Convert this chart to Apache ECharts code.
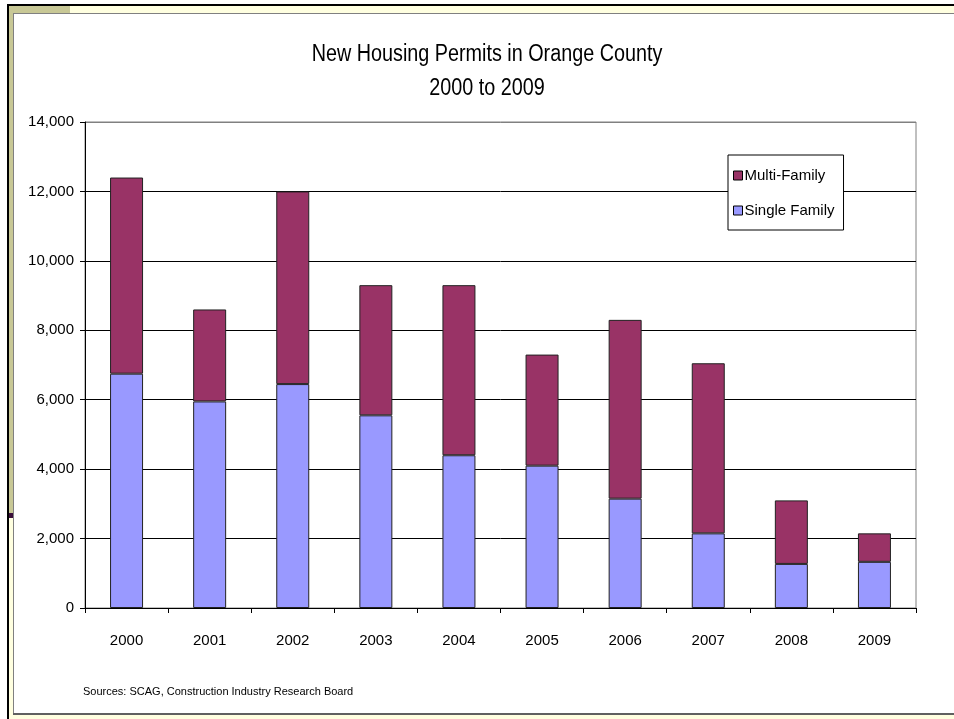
<!DOCTYPE html>
<html>
<head>
<meta charset="utf-8">
<script src="https://cdn.jsdelivr.net/npm/echarts@6/dist/echarts.min.js"></script>
<style>
  html, body { margin: 0; padding: 0; background: #fff; }
  #chart { width: 954px; height: 719px; }
</style>
</head>
<body>
<div id="chart"></div>
<script>
// Permit counts by year (units)
const years = ['2000', '2001', '2002', '2003', '2004', '2005', '2006', '2007', '2008', '2009'];
const singleFamily = [6750, 5950, 6450, 5550, 4400, 4100, 3150, 2150, 1270, 1330];
const multiFamily  = [5650, 2650, 5550, 3750, 4900, 3200, 5150, 4900, 1830, 820];
const yTicks = [0, 2000, 4000, 6000, 8000, 10000, 12000, 14000];

const FONT = '"Liberation Sans", Arial, sans-serif';

const chart = echarts.init(document.getElementById('chart'), null, { renderer: 'canvas' });

// Narrow-looking text: regular face squeezed horizontally
function narrowText(text, x, y, size, sx) {
  return {
    type: 'text', x: x, y: y, scaleX: sx, z: 10,
    style: { text: text, font: size + 'px ' + FONT, fill: '#000', align: 'center', verticalAlign: 'middle' }
  };
}

// Slide-style frame around the chart
const frame = [
  { type: 'rect', shape: { x: 7, y: 4, width: 947, height: 2 }, style: { fill: '#000' } },
  { type: 'rect', shape: { x: 7, y: 4, width: 2, height: 715 }, style: { fill: '#000' } },
  { type: 'rect', shape: { x: 9, y: 6, width: 945, height: 7 }, style: { fill: '#ffffe0' } },
  { type: 'rect', shape: { x: 9, y: 6, width: 61, height: 7 }, style: { fill: '#c8c896' } },
  { type: 'rect', shape: { x: 9, y: 6, width: 4, height: 507 }, style: { fill: '#c8c896' } },
  { type: 'rect', shape: { x: 9, y: 513, width: 4, height: 5 }, style: { fill: '#3a0f3a' } },
  { type: 'rect', shape: { x: 9, y: 518, width: 4, height: 201 }, style: { fill: '#ffffe0' } },
  { type: 'rect', shape: { x: 13, y: 13, width: 941, height: 1 }, style: { fill: '#808080' } },
  { type: 'rect', shape: { x: 13, y: 13, width: 1, height: 701 }, style: { fill: '#808080' } },
  { type: 'rect', shape: { x: 13, y: 713, width: 941, height: 2 }, style: { fill: '#606060' } },
  { type: 'rect', shape: { x: 13, y: 715, width: 941, height: 4 }, style: { fill: '#ffffe0' } },
  narrowText('New Housing Permits in Orange County', 487, 55, 23, 0.86),
  narrowText('2000 to 2009', 487, 89, 23, 0.86),
  {
    type: 'text', x: 83, y: 692,
    style: { text: 'Sources: SCAG, Construction Industry Research Board', font: '11px ' + FONT, fill: '#000', verticalAlign: 'middle' }
  }
];

chart.setOption({
  animation: false,
  backgroundColor: '#fff',
  legend: {
    data: ['Multi-Family', 'Single Family'],
    orient: 'vertical',
    left: 728,
    top: 155,
    padding: [13, 9, 12, 5],
    itemGap: 20,
    itemWidth: 9,
    itemHeight: 9,
    icon: 'rect',
    backgroundColor: '#fff',
    borderColor: '#000',
    borderWidth: 1,
    itemStyle: { borderColor: '#000', borderWidth: 1 },
    textStyle: { fontFamily: FONT, fontSize: 15, color: '#000', padding: [0, 0, 0, -3] }
  },
  grid: {
    left: 85, right: 38, top: 122, bottom: 111,
    show: true, borderColor: '#808080', borderWidth: 1, backgroundColor: '#fff'
  },
  xAxis: {
    type: 'category',
    data: years,
    axisLine: { lineStyle: { color: '#000', width: 1 } },
    axisTick: { show: true, length: 5, lineStyle: { color: '#000' } },
    axisLabel: { fontFamily: FONT, fontSize: 15, color: '#000', margin: 25 }
  },
  yAxis: {
    type: 'value',
    min: yTicks[0],
    max: yTicks[yTicks.length - 1],
    interval: 2000,
    axisLine: { show: true, lineStyle: { color: '#000', width: 1 } },
    axisTick: { show: true, length: 5, lineStyle: { color: '#000' } },
    axisLabel: {
      fontFamily: FONT, fontSize: 15, color: '#000', margin: 11,
      formatter: v => v.toLocaleString('en-US')
    },
    splitLine: {
      show: true,
      lineStyle: { color: ['#000', '#000', '#000', '#000', '#000', '#000', '#000', '#808080'], width: 1 }
    }
  },
  series: [
    {
      name: 'Single Family',
      type: 'bar',
      stack: 'permits',
      data: singleFamily,
      barWidth: 33,
      itemStyle: { color: '#9999ff', borderColor: '#222', borderWidth: 1 }
    },
    {
      name: 'Multi-Family',
      type: 'bar',
      stack: 'permits',
      data: multiFamily,
      barWidth: 33,
      itemStyle: { color: '#993366', borderColor: '#222', borderWidth: 1 }
    }
  ],
  graphic: frame
});
</script>
</body>
</html>
